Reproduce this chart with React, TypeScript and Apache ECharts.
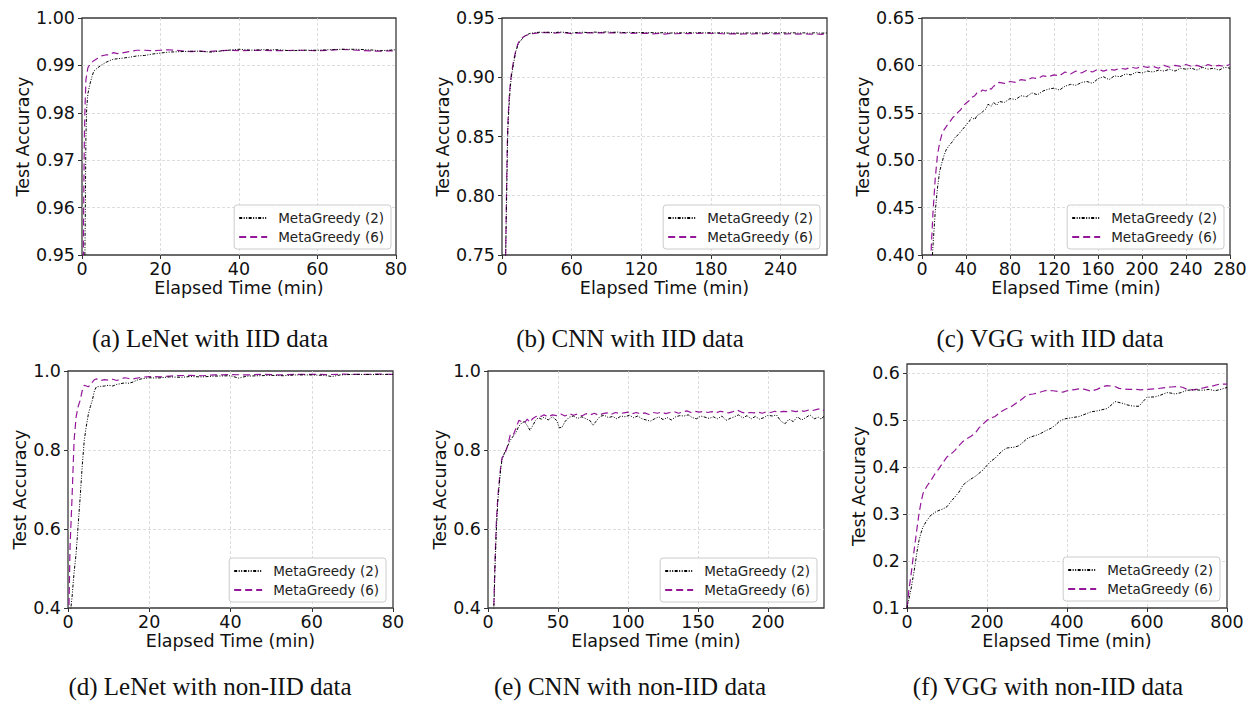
import React, { useEffect, useRef } from "react";
import * as echarts from "echarts";

const NAME2 = "MetaGreedy (2)";
const NAME6 = "MetaGreedy (6)";
const X_NAME = "Elapsed Time (min)";
const Y_NAME = "Test Accuracy";

const CAPTIONS = [
  "(a) LeNet with IID data",
  "(b) CNN with IID data",
  "(c) VGG with IID data",
  "(d) LeNet with non-IID data",
  "(e) CNN with non-IID data",
  "(f) VGG with non-IID data",
];

// (a) LeNet, IID
const A_MG2: [number, number][] = [
  [0.6, 0.94], [0.8, 0.955], [1.0, 0.975], [1.2, 0.981], [1.5, 0.984], [2, 0.986], [2.5, 0.9875], [3, 0.9888],
  [4, 0.9895], [5, 0.9901], [6, 0.9906], [7, 0.991], [8, 0.9913], [9, 0.9914], [10, 0.9915], [12, 0.9917],
  [14, 0.992], [16, 0.9921], [18, 0.9924], [20, 0.9926], [22, 0.9928], [25, 0.9929], [28, 0.993], [30, 0.993],
  [33, 0.9928], [36, 0.9931], [40, 0.9934], [43, 0.9932], [46, 0.9933], [50, 0.9933], [53, 0.9931], [56, 0.9932],
  [60, 0.9932], [63, 0.9933], [66, 0.9934], [70, 0.9934], [73, 0.9933], [76, 0.9931], [80, 0.9933],
];
const A_MG6: [number, number][] = [
  [0.3, 0.94], [0.4, 0.958], [0.6, 0.975], [0.8, 0.982], [1.0, 0.987], [1.5, 0.9895], [2, 0.9902], [3, 0.991],
  [4, 0.9915], [5, 0.992], [6, 0.9922], [7, 0.9922], [8, 0.9927], [9, 0.9925], [10, 0.9926], [12, 0.9929],
  [14, 0.9932], [16, 0.9932], [18, 0.9931], [20, 0.9932], [22, 0.9933], [24, 0.9932], [26, 0.993], [28, 0.9929],
  [30, 0.993], [32, 0.9929], [35, 0.9931], [38, 0.9932], [40, 0.9931], [45, 0.9932], [50, 0.9931], [55, 0.9932],
  [60, 0.9931], [63, 0.9932], [66, 0.9934], [70, 0.9932], [75, 0.993], [80, 0.9931],
];

// (b) CNN, IID
const B_MG2: [number, number][] = [
  [3, 0.74], [3.5, 0.77], [4, 0.8], [4.5, 0.83], [5, 0.855], [6, 0.875], [7, 0.89], [8, 0.9], [10, 0.912],
  [12, 0.922], [14, 0.928], [17, 0.932], [20, 0.935], [24, 0.937], [28, 0.9375], [32, 0.938], [36, 0.9378],
  [40, 0.938], [45, 0.9376], [50, 0.9382], [55, 0.9378], [60, 0.9372], [65, 0.9378], [70, 0.938], [75, 0.9376],
  [80, 0.9381], [85, 0.9378], [90, 0.9383], [95, 0.9379], [100, 0.9381], [105, 0.9377], [110, 0.9379],
  [115, 0.9376], [120, 0.9378], [125, 0.9375], [130, 0.9377], [135, 0.9374], [140, 0.9377], [145, 0.9373],
  [150, 0.9376], [155, 0.9374], [160, 0.9377], [165, 0.9375], [170, 0.9377], [175, 0.9374], [180, 0.9376],
  [185, 0.9373], [190, 0.9377], [195, 0.9372], [200, 0.9374], [205, 0.9371], [210, 0.9374], [215, 0.9373],
  [220, 0.9375], [225, 0.9372], [230, 0.9376], [235, 0.9374], [240, 0.9377], [245, 0.9373], [250, 0.9376],
  [255, 0.9372], [260, 0.9375], [265, 0.9371], [270, 0.9376], [275, 0.9372], [280, 0.9374],
];
const B_MG6: [number, number][] = [
  [3, 0.74], [3.5, 0.775], [4, 0.81], [4.5, 0.84], [5, 0.86], [6, 0.88], [7, 0.893], [8, 0.902], [10, 0.914],
  [12, 0.923], [14, 0.929], [17, 0.933], [20, 0.935], [24, 0.9365], [28, 0.937], [32, 0.9375], [36, 0.9378],
  [40, 0.9376], [45, 0.9372], [50, 0.9377], [55, 0.9374], [60, 0.9368], [65, 0.9375], [70, 0.9371], [75, 0.9376],
  [80, 0.9373], [85, 0.9377], [90, 0.9372], [95, 0.9376], [100, 0.9373], [105, 0.9375], [110, 0.937],
  [115, 0.9373], [120, 0.9369], [125, 0.9372], [130, 0.9366], [135, 0.9371], [140, 0.9364], [145, 0.937],
  [150, 0.9367], [155, 0.9371], [160, 0.9368], [165, 0.9372], [170, 0.9369], [175, 0.9373], [180, 0.937],
  [185, 0.9372], [190, 0.9367], [195, 0.9365], [200, 0.9368], [205, 0.9364], [210, 0.9367], [215, 0.9365],
  [220, 0.9368], [225, 0.9366], [230, 0.9369], [235, 0.9366], [240, 0.9368], [245, 0.9365], [250, 0.9368],
  [255, 0.9364], [260, 0.9367], [265, 0.9363], [270, 0.9366], [275, 0.9362], [280, 0.9365],
];

// (c) VGG, IID
const C_MG2: [number, number][] = [
  [8, 0.37], [10, 0.41], [12, 0.445], [14, 0.47], [16, 0.488], [18, 0.497], [20, 0.505], [22, 0.511], [25, 0.516],
  [28, 0.52], [30, 0.524], [33, 0.527], [35, 0.53], [38, 0.534], [40, 0.537], [43, 0.541], [45, 0.545], [48, 0.543],
  [50, 0.547], [53, 0.549], [55, 0.551], [58, 0.554], [60, 0.559], [63, 0.557], [65, 0.561], [68, 0.558], [70, 0.562],
  [75, 0.561], [80, 0.565], [85, 0.564], [90, 0.568], [95, 0.567], [100, 0.571], [105, 0.569], [110, 0.573],
  [115, 0.575], [120, 0.576], [125, 0.574], [130, 0.578], [135, 0.58], [140, 0.579], [145, 0.582], [150, 0.583],
  [155, 0.581], [160, 0.586], [165, 0.588], [170, 0.585], [175, 0.589], [180, 0.588], [185, 0.591], [190, 0.59],
  [195, 0.593], [200, 0.592], [205, 0.594], [210, 0.593], [215, 0.595], [220, 0.594], [225, 0.596], [230, 0.594],
  [235, 0.597], [240, 0.596], [245, 0.597], [250, 0.595], [255, 0.598], [260, 0.596], [265, 0.597], [270, 0.595],
  [275, 0.598], [280, 0.597],
];
const C_MG6: [number, number][] = [
  [7, 0.37], [8.5, 0.41], [10, 0.445], [12, 0.48], [14, 0.505], [16, 0.518], [18, 0.527], [20, 0.532], [23, 0.537],
  [25, 0.54], [28, 0.545], [30, 0.547], [33, 0.551], [35, 0.553], [38, 0.558], [40, 0.56], [43, 0.563], [45, 0.566],
  [48, 0.568], [50, 0.571], [53, 0.572], [55, 0.574], [58, 0.573], [60, 0.576], [63, 0.575], [65, 0.578], [68, 0.58],
  [70, 0.582], [75, 0.581], [80, 0.583], [85, 0.582], [90, 0.585], [95, 0.584], [100, 0.587], [105, 0.586],
  [110, 0.589], [115, 0.588], [120, 0.59], [125, 0.589], [130, 0.593], [135, 0.591], [140, 0.594], [145, 0.592],
  [150, 0.595], [155, 0.593], [160, 0.596], [165, 0.594], [170, 0.596], [175, 0.595], [180, 0.597], [185, 0.596],
  [190, 0.598], [195, 0.597], [200, 0.599], [205, 0.598], [210, 0.599], [215, 0.597], [220, 0.6], [225, 0.598],
  [230, 0.6], [235, 0.599], [240, 0.601], [245, 0.599], [250, 0.6], [255, 0.598], [260, 0.601], [265, 0.599],
  [270, 0.6], [275, 0.599], [280, 0.601],
];

// (d) LeNet, non-IID
const D_MG2: [number, number][] = [
  [0.5, 0.38], [1, 0.428], [1.5, 0.49], [2, 0.538], [2.5, 0.61], [3, 0.681], [3.5, 0.76], [4, 0.824], [4.5, 0.86],
  [5, 0.89], [5.5, 0.91], [6, 0.926], [6.5, 0.95], [7, 0.96], [8, 0.961], [9, 0.962], [10, 0.964], [11, 0.962],
  [12, 0.966], [13, 0.968], [14, 0.97], [15, 0.969], [16, 0.972], [17, 0.977], [18, 0.98], [20, 0.983], [22, 0.982],
  [25, 0.985], [28, 0.984], [30, 0.986], [33, 0.985], [36, 0.987], [40, 0.988], [42, 0.982], [44, 0.987],
  [47, 0.988], [50, 0.989], [53, 0.988], [56, 0.99], [60, 0.99], [63, 0.989], [65, 0.986], [67, 0.99],
  [70, 0.9915], [75, 0.991], [80, 0.9915],
];
const D_MG6: [number, number][] = [
  [0.2, 0.38], [0.5, 0.554], [1, 0.681], [1.5, 0.824], [2, 0.884], [2.5, 0.91], [3, 0.926], [3.5, 0.95], [4, 0.964],
  [4.5, 0.962], [5, 0.96], [5.5, 0.965], [6, 0.972], [6.5, 0.978], [7, 0.98], [8, 0.976], [9, 0.978], [10, 0.977],
  [11, 0.979], [12, 0.976], [13, 0.98], [14, 0.983], [15, 0.981], [16, 0.98], [18, 0.984], [20, 0.986], [23, 0.985],
  [26, 0.988], [30, 0.989], [33, 0.988], [36, 0.99], [40, 0.991], [44, 0.99], [48, 0.9915], [52, 0.99],
  [56, 0.9915], [60, 0.9916], [64, 0.991], [68, 0.992], [72, 0.9912], [76, 0.992], [80, 0.9916],
];

// (e) CNN, non-IID
const E_MG2: [number, number][] = [
  [4, 0.38], [5, 0.5], [6, 0.6], [7, 0.67], [8, 0.71], [9, 0.75], [10, 0.775], [12, 0.795], [14, 0.81], [16, 0.825],
  [18, 0.835], [20, 0.845], [22, 0.86], [24, 0.868], [26, 0.872], [28, 0.862], [30, 0.85], [32, 0.862], [34, 0.875],
  [36, 0.882], [38, 0.878], [40, 0.883], [43, 0.876], [46, 0.884], [49, 0.875], [51, 0.856], [53, 0.858],
  [55, 0.872], [58, 0.883], [61, 0.886], [64, 0.88], [67, 0.884], [70, 0.879], [73, 0.874], [75, 0.862],
  [77, 0.872], [80, 0.885], [83, 0.888], [86, 0.882], [89, 0.885], [92, 0.879], [95, 0.886], [98, 0.884],
  [101, 0.888], [104, 0.882], [107, 0.886], [110, 0.879], [113, 0.876], [116, 0.873], [119, 0.879], [122, 0.884],
  [125, 0.877], [128, 0.882], [131, 0.876], [134, 0.884], [137, 0.887], [140, 0.886], [143, 0.889], [146, 0.882],
  [149, 0.879], [152, 0.886], [155, 0.883], [158, 0.88], [161, 0.884], [164, 0.879], [167, 0.886], [170, 0.875],
  [173, 0.88], [176, 0.884], [179, 0.889], [182, 0.881], [185, 0.887], [188, 0.879], [191, 0.885], [194, 0.878],
  [197, 0.882], [200, 0.888], [203, 0.886], [206, 0.889], [209, 0.874], [212, 0.866], [215, 0.878], [218, 0.872],
  [221, 0.884], [224, 0.876], [227, 0.882], [230, 0.889], [233, 0.879], [236, 0.883], [238, 0.878], [240, 0.886],
];
const E_MG6: [number, number][] = [
  [4, 0.38], [5, 0.52], [6, 0.62], [7, 0.68], [8, 0.72], [9, 0.755], [10, 0.78], [12, 0.79], [14, 0.81], [16, 0.84],
  [18, 0.838], [20, 0.855], [22, 0.875], [24, 0.872], [26, 0.868], [28, 0.878], [30, 0.87], [32, 0.88], [34, 0.884],
  [36, 0.888], [38, 0.885], [40, 0.889], [43, 0.884], [46, 0.889], [49, 0.887], [52, 0.891], [55, 0.886],
  [58, 0.892], [61, 0.888], [64, 0.891], [67, 0.886], [70, 0.892], [73, 0.889], [76, 0.893], [79, 0.888],
  [82, 0.892], [85, 0.894], [88, 0.89], [91, 0.895], [94, 0.892], [97, 0.894], [100, 0.896], [103, 0.892],
  [106, 0.895], [109, 0.891], [112, 0.894], [115, 0.89], [118, 0.895], [121, 0.893], [124, 0.896], [127, 0.892],
  [130, 0.895], [133, 0.897], [136, 0.893], [139, 0.896], [142, 0.899], [145, 0.895], [148, 0.898], [151, 0.896],
  [154, 0.898], [157, 0.895], [160, 0.897], [163, 0.894], [166, 0.898], [169, 0.896], [172, 0.894], [175, 0.897],
  [178, 0.901], [181, 0.896], [184, 0.893], [187, 0.895], [190, 0.894], [193, 0.896], [196, 0.893], [199, 0.897],
  [202, 0.895], [205, 0.898], [208, 0.896], [211, 0.898], [214, 0.897], [217, 0.899], [220, 0.897], [223, 0.9],
  [226, 0.898], [229, 0.901], [232, 0.9], [235, 0.903], [238, 0.905], [240, 0.9],
];

// (f) VGG, non-IID
const F_MG2: [number, number][] = [
  [0, 0.1], [5, 0.12], [10, 0.14], [15, 0.165], [20, 0.19], [25, 0.22], [30, 0.244], [35, 0.26], [40, 0.273],
  [50, 0.287], [60, 0.298], [70, 0.304], [80, 0.308], [90, 0.311], [100, 0.316], [110, 0.327], [120, 0.337],
  [130, 0.347], [140, 0.362], [150, 0.369], [160, 0.375], [170, 0.38], [180, 0.387], [190, 0.394], [200, 0.404],
  [210, 0.413], [220, 0.419], [230, 0.428], [240, 0.436], [250, 0.441], [260, 0.442], [270, 0.443], [280, 0.446],
  [290, 0.453], [300, 0.461], [315, 0.466], [330, 0.47], [345, 0.477], [360, 0.483], [370, 0.489], [380, 0.497],
  [390, 0.502], [400, 0.504], [415, 0.506], [430, 0.508], [445, 0.513], [460, 0.518], [475, 0.52], [490, 0.523],
  [500, 0.525], [510, 0.532], [520, 0.54], [530, 0.538], [540, 0.536], [550, 0.533], [560, 0.531], [570, 0.53],
  [580, 0.53], [590, 0.54], [600, 0.549], [620, 0.55], [635, 0.554], [650, 0.559], [660, 0.558], [670, 0.556],
  [685, 0.559], [700, 0.564], [720, 0.565], [740, 0.564], [755, 0.566], [770, 0.563], [785, 0.566], [800, 0.57],
];
const F_MG6: [number, number][] = [
  [0, 0.1], [5, 0.14], [10, 0.17], [15, 0.205], [20, 0.237], [25, 0.27], [30, 0.301], [35, 0.325], [40, 0.344],
  [50, 0.36], [60, 0.372], [70, 0.386], [80, 0.397], [90, 0.41], [100, 0.422], [110, 0.428], [120, 0.436],
  [130, 0.446], [140, 0.455], [150, 0.461], [160, 0.466], [170, 0.472], [180, 0.484], [190, 0.492], [200, 0.5],
  [210, 0.505], [220, 0.508], [230, 0.515], [240, 0.521], [250, 0.525], [260, 0.529], [270, 0.535], [280, 0.54],
  [290, 0.547], [300, 0.554], [315, 0.556], [330, 0.559], [340, 0.562], [350, 0.564], [365, 0.563], [380, 0.561],
  [390, 0.56], [400, 0.563], [415, 0.565], [430, 0.567], [445, 0.566], [460, 0.562], [475, 0.566], [490, 0.572],
  [500, 0.574], [510, 0.573], [520, 0.572], [530, 0.568], [540, 0.567], [555, 0.566], [570, 0.566], [585, 0.565],
  [600, 0.566], [620, 0.567], [640, 0.569], [660, 0.571], [680, 0.572], [690, 0.57], [700, 0.566], [715, 0.565],
  [730, 0.567], [745, 0.57], [760, 0.572], [780, 0.577], [800, 0.577],
];

const SANS = "DejaVu Sans";
const SERIF = "Liberation Serif";
const BLACK_DASH = [3, 1.5, 1, 1.5, 1, 1.5];
const PURPLE_DASH = [7, 4];
const PURPLE = "#94179a";

type Panel = {
  grid: { left: number; top: number; width: number; height: number };
  xMax: number; xInt: number; yMin: number; yMax: number; yInt: number; yDec: number;
  hideXMax: boolean; hideYMax: boolean;
  yGap: number; xGap: number;
  legRight: number; legTop: number;
  capX: number; capY: number;
  s2: [number, number][]; s6: [number, number][];
};

const PANELS: Panel[] = [
  { grid: { left: 82, top: 18, width: 314, height: 237 }, xMax: 80, xInt: 20, yMin: 0.95, yMax: 1.0, yInt: 0.01, yDec: 2,
    hideXMax: false, hideYMax: false, yGap: 49, xGap: 22, legRight: 865, legTop: 205, capX: 210, capY: 338, s2: A_MG2, s6: A_MG6 },
  { grid: { left: 502, top: 18, width: 325, height: 237 }, xMax: 280, xInt: 60, yMin: 0.75, yMax: 0.95, yInt: 0.05, yDec: 2,
    hideXMax: true, hideYMax: false, yGap: 49, xGap: 22, legRight: 436, legTop: 205, capX: 630, capY: 338, s2: B_MG2, s6: B_MG6 },
  { grid: { left: 922, top: 18, width: 308, height: 237 }, xMax: 280, xInt: 40, yMin: 0.4, yMax: 0.65, yInt: 0.05, yDec: 2,
    hideXMax: false, hideYMax: false, yGap: 49, xGap: 22, legRight: 32, legTop: 205, capX: 1050, capY: 338, s2: C_MG2, s6: C_MG6 },
  { grid: { left: 68, top: 371, width: 325, height: 237 }, xMax: 80, xInt: 20, yMin: 0.4, yMax: 1.0, yInt: 0.2, yDec: 1,
    hideXMax: false, hideYMax: false, yGap: 38, xGap: 24, legRight: 870, legTop: 558, capX: 210, capY: 686, s2: D_MG2, s6: D_MG6 },
  { grid: { left: 488, top: 371, width: 336, height: 237 }, xMax: 240, xInt: 50, yMin: 0.4, yMax: 1.0, yInt: 0.2, yDec: 1,
    hideXMax: true, hideYMax: false, yGap: 38, xGap: 24, legRight: 439, legTop: 558, capX: 630, capY: 686, s2: E_MG2, s6: E_MG6 },
  { grid: { left: 907, top: 364, width: 320, height: 244 }, xMax: 800, xInt: 200, yMin: 0.1, yMax: 0.62, yInt: 0.1, yDec: 1,
    hideXMax: false, hideYMax: true, yGap: 38, xGap: 24, legRight: 36, legTop: 557, capX: 1048, capY: 686, s2: F_MG2, s6: F_MG6 },
];

function buildOption() {
  const grid: any[] = [];
  const xAxis: any[] = [];
  const yAxis: any[] = [];
  const series: any[] = [];
  const legend: any[] = [];
  const graphic: any[] = [];
  const splitLine = {
    show: true, showMinLine: false, showMaxLine: false,
    lineStyle: { color: "#d4d4d4", width: 0.8, type: [3, 2] },
  };
  const tick = { show: true, inside: false, length: 4, lineStyle: { color: "#333", width: 1 } };

  PANELS.forEach((p, i) => {
    grid.push({ ...p.grid, show: true, borderColor: "#3a3a3a", borderWidth: 1.3, backgroundColor: "transparent", containLabel: false });
    xAxis.push({
      gridIndex: i, type: "value", min: 0, max: p.xMax, interval: p.xInt,
      name: X_NAME, nameLocation: "middle", nameGap: p.xGap,
      nameTextStyle: { fontFamily: SANS, fontSize: 17.5, color: "#111" },
      axisLine: { show: false }, axisTick: tick, splitLine,
      axisLabel: { fontFamily: SANS, fontSize: 17.5, color: "#111", margin: 5, showMaxLabel: !p.hideXMax, showMinLabel: true,
        formatter: (v: number) => String(Math.round(v)) },
    });
    yAxis.push({
      gridIndex: i, type: "value", min: p.yMin, max: p.yMax, interval: p.yInt,
      name: Y_NAME, nameLocation: "middle", nameGap: p.yGap, nameRotate: 90,
      nameTextStyle: { fontFamily: SANS, fontSize: 17.5, color: "#111" },
      axisLine: { show: false }, axisTick: tick, splitLine,
      axisLabel: { fontFamily: SANS, fontSize: 17.5, color: "#111", margin: 7, showMaxLabel: !p.hideYMax, showMinLabel: true,
        formatter: (v: number) => v.toFixed(p.yDec) },
    });
    series.push({
      type: "line", name: NAME2, xAxisIndex: i, yAxisIndex: i, data: p.s2, symbol: "none", showSymbol: false,
      clip: true, lineStyle: { color: "#000", width: 1, type: BLACK_DASH }, itemStyle: { color: "#000" }, z: 3,
    });
    series.push({
      type: "line", name: NAME6, xAxisIndex: i, yAxisIndex: i, data: p.s6, symbol: "none", showSymbol: false,
      clip: true, lineStyle: { color: PURPLE, width: 1.2, type: PURPLE_DASH }, itemStyle: { color: PURPLE }, z: 2,
    });
    legend.push({
      right: p.legRight, top: p.legTop, orient: "vertical", itemWidth: 28, itemHeight: 14, itemGap: 5,
      padding: [6, 7, 5, 4], backgroundColor: "rgba(255,255,255,0.85)", borderColor: "#cccccc", borderWidth: 1, borderRadius: 3,
      selectedMode: false, data: [NAME2, NAME6],
      itemStyle: { opacity: 0, borderWidth: 0 },
      textStyle: { fontFamily: SANS, fontSize: 13.5, color: "#222", padding: [0, 0, 0, 6] },
    });
    graphic.push({
      type: "text", x: p.capX, y: p.capY,
      style: { text: CAPTIONS[i], fontSize: 25, fontFamily: SERIF, fill: "#111", align: "center", verticalAlign: "middle",
        textAlign: "center", textVerticalAlign: "middle" },
    });
  });

  return { animation: false, backgroundColor: "#ffffff", grid, xAxis, yAxis, series, legend, graphic };
}

export default function App() {
  const ref = useRef<HTMLDivElement>(null);
  useEffect(() => {
    if (!ref.current) return;
    const chart = echarts.init(ref.current, undefined, { renderer: "svg" });
    chart.setOption(buildOption() as any);
    return () => chart.dispose();
  }, []);
  return (
    <div
      ref={ref}
      style={{ position: "absolute", left: 0, top: 0, width: 1256, height: 704, background: "#fff" }}
    />
  );
}
